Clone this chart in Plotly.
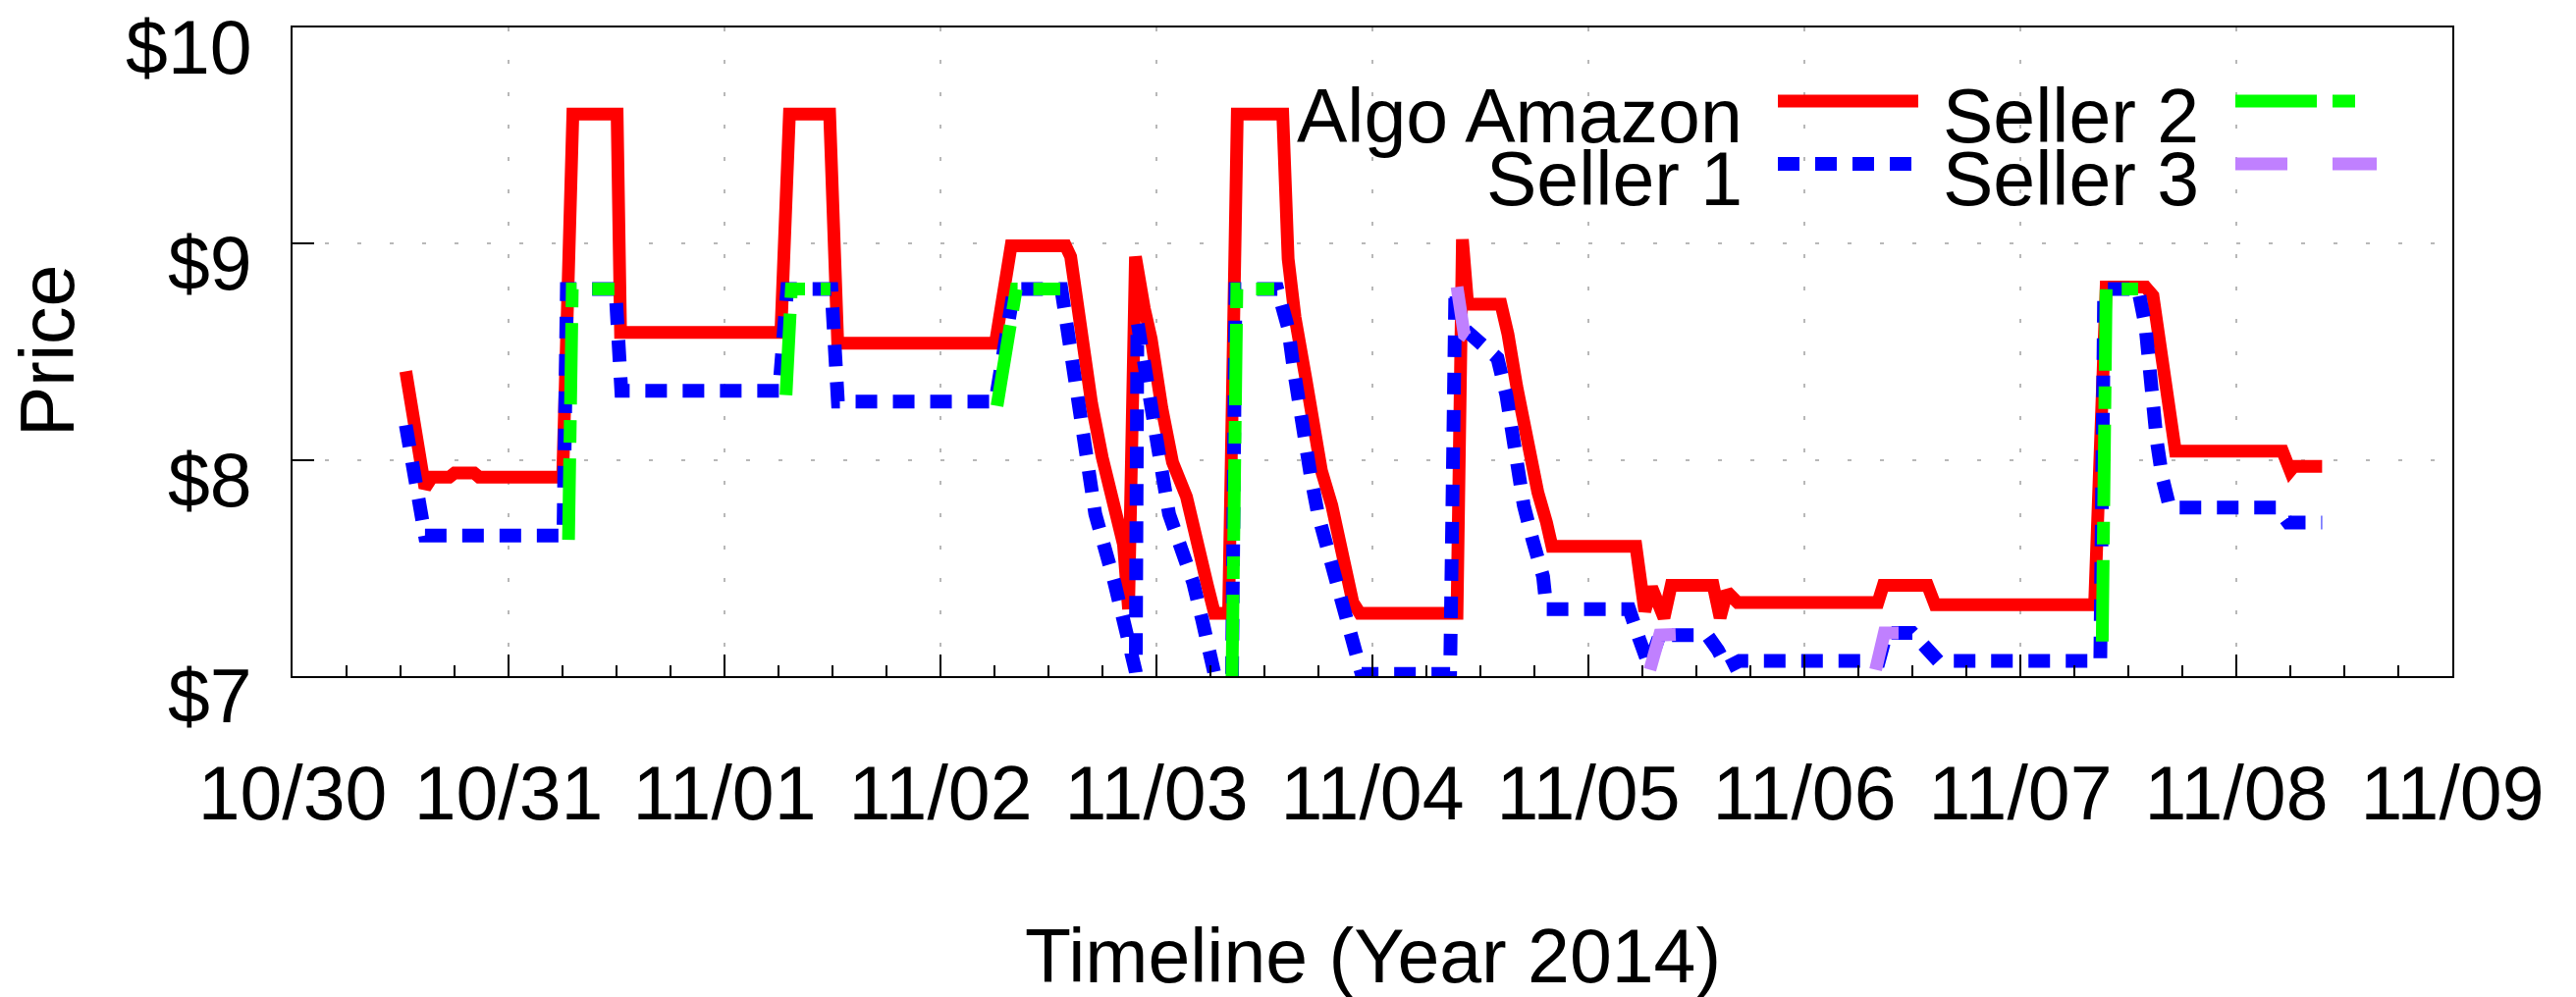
import plotly.graph_objects as go

# ---------------- data ----------------
algo_time = [
    "2014-10-30 12:35", "2014-10-30 13:09", "2014-10-30 13:57", "2014-10-30 14:43", "2014-10-30 15:30",
    "2014-10-30 17:25", "2014-10-30 18:01", "2014-10-30 20:10", "2014-10-30 20:44",
    "2014-10-31 06:01", "2014-10-31 07:09", "2014-10-31 12:04", "2014-10-31 12:27",
    "2014-11-01 06:16", "2014-11-01 07:13", "2014-11-01 11:41", "2014-11-01 12:35",
    "2014-11-02 06:06", "2014-11-02 07:51", "2014-11-02 13:54", "2014-11-02 14:28", "2014-11-02 15:39",
    "2014-11-02 16:48", "2014-11-02 17:59", "2014-11-02 19:09", "2014-11-02 20:20", "2014-11-02 20:54",
    "2014-11-02 21:40", "2014-11-02 22:39", "2014-11-02 23:25",
    "2014-11-03 00:36", "2014-11-03 01:47", "2014-11-03 03:20", "2014-11-03 04:31", "2014-11-03 05:40",
    "2014-11-03 06:27", "2014-11-03 08:01", "2014-11-03 08:59", "2014-11-03 14:02", "2014-11-03 14:38",
    "2014-11-03 15:24", "2014-11-03 16:35", "2014-11-03 17:21", "2014-11-03 18:20", "2014-11-03 19:29",
    "2014-11-03 20:40", "2014-11-03 21:50", "2014-11-03 22:36",
    "2014-11-04 09:24", "2014-11-04 10:00", "2014-11-04 10:35", "2014-11-04 14:17", "2014-11-04 15:04",
    "2014-11-04 16:02", "2014-11-04 16:49", "2014-11-04 17:36", "2014-11-04 18:23", "2014-11-04 19:21",
    "2014-11-04 19:57",
    "2014-11-05 05:17", "2014-11-05 06:16", "2014-11-05 07:02", "2014-11-05 08:24", "2014-11-05 09:12",
    "2014-11-05 13:52", "2014-11-05 14:38", "2014-11-05 15:24", "2014-11-05 16:35",
    "2014-11-06 08:10", "2014-11-06 08:46", "2014-11-06 13:41", "2014-11-06 14:31",
    "2014-11-07 08:15", "2014-11-07 09:32", "2014-11-07 13:54", "2014-11-07 14:44", "2014-11-07 15:35",
    "2014-11-07 16:23", "2014-11-07 17:14",
    "2014-11-08 05:08", "2014-11-08 05:59", "2014-11-08 06:23", "2014-11-08 09:32",
]
algo_price = [
    8.41, 8.26, 8.09, 7.87, 7.92, 7.92, 7.94, 7.94, 7.92,
    7.92, 9.60, 9.60, 8.59,
    8.59, 9.60, 9.60, 8.54,
    8.54, 8.99, 8.99, 8.94, 8.56, 8.26, 8.01, 7.83, 7.61, 7.31, 8.94, 8.70, 8.56,
    8.24, 7.99, 7.83, 7.65, 7.42, 7.29, 7.29, 9.60, 9.60, 8.93, 8.66, 8.38, 8.15, 7.95, 7.79, 7.57, 7.34, 7.29,
    7.29, 9.02, 8.72, 8.72, 8.58, 8.34, 8.15, 7.99, 7.85, 7.71, 7.60,
    7.60, 7.30, 7.41, 7.27, 7.42, 7.42, 7.27, 7.39, 7.34,
    7.34, 7.42, 7.42, 7.33,
    7.33, 8.80, 8.80, 8.76, 8.50, 8.22, 8.04,
    8.04, 7.95, 7.97, 7.97,
]

seller1_time = [
    "2014-10-30 12:35", "2014-10-30 13:29", "2014-10-30 14:12", "2014-10-30 14:43",
    "2014-10-31 06:06", "2014-10-31 06:29", "2014-10-31 11:53", "2014-10-31 12:32",
    "2014-11-01 06:04", "2014-11-01 06:58", "2014-11-01 11:53", "2014-11-01 12:36",
    "2014-11-02 06:06", "2014-11-02 08:10", "2014-11-02 13:26", "2014-11-02 14:51", "2014-11-02 15:58",
    "2014-11-02 17:12", "2014-11-02 19:21", "2014-11-02 21:29", "2014-11-02 21:42", "2014-11-02 21:53",
    "2014-11-02 22:51",
    "2014-11-03 00:00", "2014-11-03 01:24", "2014-11-03 02:57", "2014-11-03 04:06", "2014-11-03 05:05",
    "2014-11-03 05:51", "2014-11-03 06:27", "2014-11-03 08:24", "2014-11-03 08:47", "2014-11-03 13:26",
    "2014-11-03 14:02", "2014-11-03 14:38", "2014-11-03 15:13", "2014-11-03 15:48", "2014-11-03 16:24",
    "2014-11-03 17:10", "2014-11-03 17:57", "2014-11-03 18:55", "2014-11-03 20:05", "2014-11-03 21:03",
    "2014-11-03 22:02", "2014-11-03 22:48",
    "2014-11-04 08:38", "2014-11-04 09:13", "2014-11-04 09:50", "2014-11-04 13:19", "2014-11-04 13:54",
    "2014-11-04 14:53", "2014-11-04 15:27", "2014-11-04 16:02", "2014-11-04 16:49", "2014-11-04 17:48",
    "2014-11-04 18:58", "2014-11-04 19:21",
    "2014-11-05 04:32", "2014-11-05 05:40", "2014-11-05 06:43", "2014-11-05 07:55", "2014-11-05 13:12",
    "2014-11-05 14:24", "2014-11-05 15:22", "2014-11-05 16:48",
    "2014-11-06 08:17", "2014-11-06 09:07", "2014-11-06 12:00", "2014-11-06 14:53",
    "2014-11-07 08:53", "2014-11-07 09:19", "2014-11-07 13:05", "2014-11-07 13:54", "2014-11-07 14:18",
    "2014-11-07 14:44", "2014-11-07 15:09", "2014-11-07 15:46", "2014-11-07 16:36",
    "2014-11-08 04:31", "2014-11-08 05:46", "2014-11-08 09:32",
]
seller1_price = [
    8.16, 7.94, 7.77, 7.65,
    7.65, 8.79, 8.79, 8.32,
    8.32, 8.79, 8.79, 8.27,
    8.27, 8.79, 8.79, 8.43, 8.10, 7.75, 7.43, 7.10, 7.02, 8.64, 8.43,
    8.10, 7.75, 7.59, 7.43, 7.26, 7.09, 7.01, 7.01, 8.79, 8.79, 8.68, 8.61, 8.43, 8.26, 8.10, 7.92, 7.75,
    7.59, 7.43, 7.26, 7.09, 7.01,
    7.01, 8.79, 8.62, 8.50, 8.47, 8.30, 8.13, 7.96, 7.79, 7.63, 7.46, 7.31,
    7.31, 7.17, 7.05, 7.19, 7.19, 7.12, 7.04, 7.07,
    7.07, 7.20, 7.20, 7.07,
    7.07, 8.79, 8.79, 8.62, 8.43, 8.26, 8.09, 7.92, 7.78,
    7.78, 7.71, 7.71,
]

seller2_time = [
    "2014-10-31 06:40", "2014-10-31 07:05", "2014-10-31 11:46", None,
    "2014-11-01 06:50", "2014-11-01 07:26", "2014-11-01 11:46", None,
    "2014-11-02 06:17", "2014-11-02 08:25", "2014-11-02 13:18", None,
    "2014-11-03 08:24", "2014-11-03 08:56", "2014-11-03 13:05", None,
    "2014-11-07 09:06", "2014-11-07 09:32", "2014-11-07 13:05",
]
seller2_price = [
    7.63, 8.79, 8.79, None,
    8.30, 8.79, 8.79, None,
    8.25, 8.79, 8.79, None,
    7.00, 8.79, 8.79, None,
    7.16, 8.79, 8.79,
]

seller3_time = [
    "2014-11-04 09:24", "2014-11-04 10:12", "2014-11-04 13:19", None,
    "2014-11-05 06:50", "2014-11-05 07:55", "2014-11-05 13:26", None,
    "2014-11-06 07:55", "2014-11-06 08:53", "2014-11-06 11:02",
]
seller3_price = [
    8.80, 8.58, 8.49, None,
    7.03, 7.19, 7.20, None,
    7.03, 7.20, 7.20,
]

series_names = ["Algo Amazon", "Seller 1", "Seller 2", "Seller 3"]
y_tickvals = [7, 8, 9, 10]
y_ticktext = ["$7", "$8", "$9", "$10"]
x_title = "Timeline (Year 2014)"
y_title = "Price"

# ---------------- styling ----------------
FONT = "Liberation Sans"
FS = 77
OFF = 8                      # page body margin
W, H = 2624 - OFF, 1016 - OFF
L, R, T, B = 290, 126, 20, 327
PW, PH = W - L - R, H - T - B

colors = ["#ff0000", "#0000ff", "#00ff00", "#c080ff"]
dashes = ["solid", "22px,16px", "83px,16px,23px,16px", "53px,46px"]
widths = [13, 14, 13, 13]


def px_x(sx):
    """screen x pixel -> paper x"""
    return (sx - OFF - L) / PW


def px_y(sy):
    """screen y pixel -> paper y"""
    return (H - B - (sy - OFF)) / PH


fig = go.Figure()
series = [(algo_time, algo_price), (seller1_time, seller1_price),
          (seller2_time, seller2_price), (seller3_time, seller3_price)]
for i, (xs, ys) in enumerate(series):
    fig.add_trace(go.Scatter(
        x=xs, y=ys, mode="lines", name=series_names[i],
        line=dict(color=colors[i], width=widths[i], dash=dashes[i]),
        connectgaps=False, showlegend=False, hoverinfo="skip",
    ))

# custom gnuplot-style key: text then sample line
key_text_right = [1777, 1777, 2242, 2242]
key_text_y = [118, 182, 118, 182]
key_line_x = [(1811, 1954), (1811, 1950), (2277, 2400), (2277, 2421)]
key_line_y = [103, 167, 103, 167]
annotations = []
shapes = []
for i in range(4):
    annotations.append(dict(
        x=px_x(key_text_right[i]), y=px_y(key_text_y[i]), xref="paper", yref="paper",
        text=series_names[i], showarrow=False, xanchor="right", yanchor="middle",
        font=dict(family=FONT, size=FS, color="black"),
    ))
    shapes.append(dict(
        type="line", xref="paper", yref="paper",
        x0=px_x(key_line_x[i][0]), x1=px_x(key_line_x[i][1]),
        y0=px_y(key_line_y[i]), y1=px_y(key_line_y[i]),
        line=dict(color=colors[i], width=widths[i], dash=dashes[i]),
    ))

annotations.append(dict(
    x=px_x(1398), y=px_y(974), xref="paper", yref="paper", text=x_title, showarrow=False,
    xanchor="center", yanchor="middle", font=dict(family=FONT, size=FS, color="black"),
))
annotations.append(dict(
    x=px_x(48), y=px_y(358), xref="paper", yref="paper", text=y_title, showarrow=False,
    textangle=-90, xanchor="center", yanchor="middle",
    font=dict(family=FONT, size=FS, color="black"),
))

grid_color = "#b8b8b8"
fig.update_layout(
    template="none",
    width=W, height=H, autosize=False,
    margin=dict(l=L, r=R, t=T, b=B, pad=0),
    paper_bgcolor="white", plot_bgcolor="white",
    font=dict(family=FONT, size=FS, color="black"),
    showlegend=False,
    annotations=annotations,
    shapes=shapes,
    xaxis=dict(
        type="date", range=["2014-10-30", "2014-11-09"], automargin=False,
        showline=True, linecolor="black", linewidth=2, mirror=True,
        ticks="inside", ticklen=22, tickwidth=2, tickcolor="black",
        tick0="2014-10-30", dtick=86400000, tickformat="%m/%d",
        tickfont=dict(family=FONT, size=FS, color="black"),
        ticklabelstandoff=52, ticklabeloverflow="allow",
        showgrid=True, gridcolor=grid_color, gridwidth=1.5, griddash="4px,29px",
        zeroline=False,
        minor=dict(ticks="inside", ticklen=11, tickwidth=2, tickcolor="black",
                   dtick=21600000, showgrid=False),
    ),
    yaxis=dict(
        range=[7, 10], automargin=False,
        showline=True, linecolor="black", linewidth=2, mirror=True,
        ticks="inside", ticklen=22, tickwidth=2, tickcolor="black",
        tickvals=y_tickvals, ticktext=y_ticktext,
        tickfont=dict(family=FONT, size=FS, color="black"),
        ticklabelstandoff=24, ticklabelshift=20, ticklabeloverflow="allow",
        showgrid=True, gridcolor=grid_color, gridwidth=1.5, griddash="4px,29px",
        zeroline=False,
    ),
)

fig.write_html("out.html")
